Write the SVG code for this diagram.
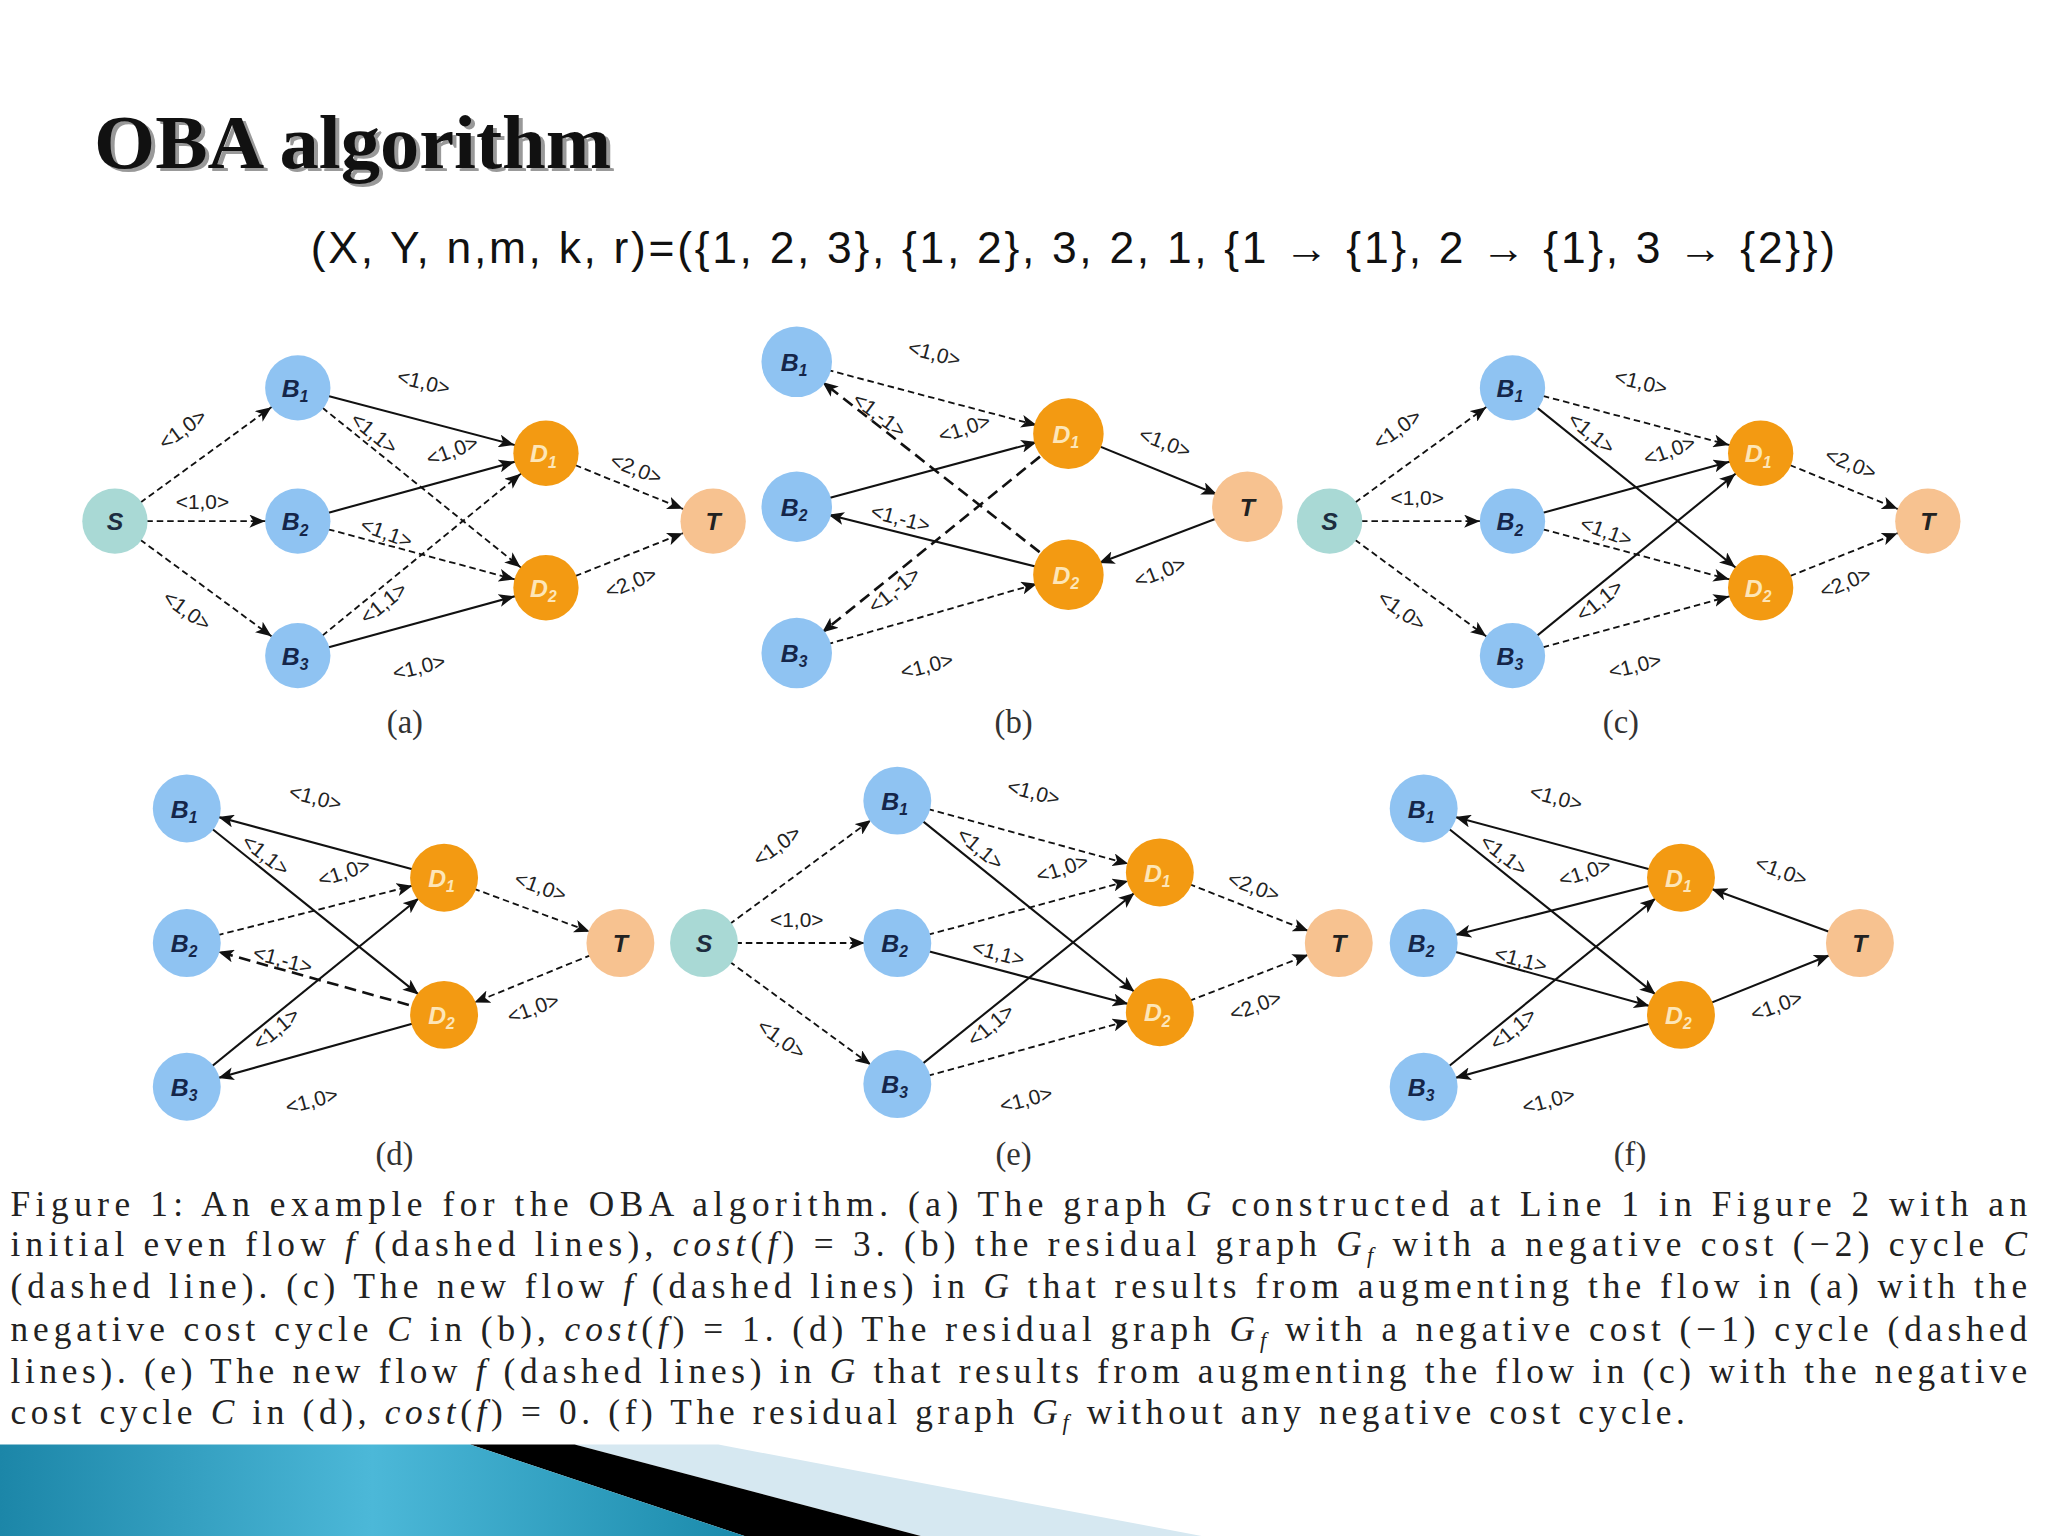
<svg xmlns="http://www.w3.org/2000/svg" width="2048" height="1536" viewBox="0 0 2048 1536">
<defs>
<marker id="ah" markerUnits="userSpaceOnUse" viewBox="0 0 40 10" markerWidth="40" markerHeight="10" refX="37" refY="5" orient="auto"><path d="M0,0 L12,5 L0,10 L3,5 z" fill="#111"/></marker>
<style>
.s{stroke:#111;stroke-width:1.6;fill:none;marker-end:url(#ah)}
.d{stroke:#111;stroke-width:1.4;fill:none;stroke-dasharray:5,3;marker-end:url(#ah)}
.l{stroke:#111;stroke-width:2;fill:none;stroke-dasharray:9,5;marker-end:url(#ah)}
.lb{font-family:"Liberation Sans",Arial,sans-serif;font-size:16px;fill:#222;text-anchor:middle}
.nt{font-family:"Liberation Sans",Arial,sans-serif;font-size:19px;font-weight:bold;font-style:italic;text-anchor:middle}
.sub{font-size:12px}
.cS{fill:#a9d9d5}.cB{fill:#8fc3f2}.cD{fill:#f39a12}.cT{fill:#f7c290}
.tS{fill:#1d2d40}.tB{fill:#15264a}.tD{fill:#fde6b8}.tT{fill:#222}
.cap{font-family:"Liberation Serif","Times New Roman",serif;font-size:27px;fill:#222}
.pc{font-family:"Liberation Serif","Times New Roman",serif;font-size:25px;fill:#333;text-anchor:middle}
</style>
</defs>
<rect width="2048" height="1536" fill="#fff"/>
<g transform="scale(1.30612)">
<g id="title">
<text x="75" y="131" font-family="Liberation Serif,serif" font-size="58" font-weight="bold" fill="#999" textLength="396" lengthAdjust="spacingAndGlyphs">OBA algorithm</text>
<text x="72" y="129" font-family="Liberation Serif,serif" font-size="58" font-weight="bold" fill="#111" textLength="396" lengthAdjust="spacingAndGlyphs">OBA algorithm</text>
<text x="238" y="201" font-family="Liberation Sans,Arial,sans-serif" font-size="34" fill="#111" textLength="1167" lengthAdjust="spacing">(X, Y, n,m, k, r)=({1, 2, 3}, {1, 2}, 3, 2, 1, {1 → {1}, 2 → {1}, 3 → {2}})</text>
</g>
<g id="connectors">
<line class="d" x1="88" y1="399" x2="228" y2="297"/><line class="d" x1="88" y1="399" x2="228" y2="399"/><line class="d" x1="88" y1="399" x2="228" y2="502"/>
<line class="s" x1="228" y1="297" x2="418" y2="347"/><line class="d" x1="228" y1="297" x2="418" y2="450"/>
<line class="s" x1="228" y1="399" x2="418" y2="347"/><line class="d" x1="228" y1="399" x2="418" y2="450"/>
<line class="d" x1="228" y1="502" x2="418" y2="347"/><line class="s" x1="228" y1="502" x2="418" y2="450"/>
<line class="d" x1="418" y1="347" x2="546" y2="399"/><line class="d" x1="418" y1="450" x2="546" y2="399"/>
<line class="d" x1="610" y1="277" x2="818" y2="332"/><line class="l" x1="818" y1="440" x2="610" y2="277"/>
<line class="s" x1="610" y1="388" x2="818" y2="332"/><line class="s" x1="818" y1="440" x2="610" y2="388"/>
<line class="l" x1="818" y1="332" x2="610" y2="500"/><line class="d" x1="610" y1="500" x2="818" y2="440"/>
<line class="s" x1="818" y1="332" x2="955" y2="388"/><line class="s" x1="955" y1="388" x2="818" y2="440"/>
<line class="d" x1="1018" y1="399" x2="1158" y2="297"/><line class="d" x1="1018" y1="399" x2="1158" y2="399"/><line class="d" x1="1018" y1="399" x2="1158" y2="502"/>
<line class="d" x1="1158" y1="297" x2="1348" y2="347"/><line class="s" x1="1158" y1="297" x2="1348" y2="450"/>
<line class="s" x1="1158" y1="399" x2="1348" y2="347"/><line class="d" x1="1158" y1="399" x2="1348" y2="450"/>
<line class="s" x1="1158" y1="502" x2="1348" y2="347"/><line class="d" x1="1158" y1="502" x2="1348" y2="450"/>
<line class="d" x1="1348" y1="347" x2="1476" y2="399"/><line class="d" x1="1348" y1="450" x2="1476" y2="399"/>
<line class="s" x1="340" y1="672" x2="143" y2="619"/><line class="s" x1="143" y1="619" x2="340" y2="777"/>
<line class="d" x1="143" y1="722" x2="340" y2="672"/><line class="l" x1="340" y1="777" x2="143" y2="722"/>
<line class="s" x1="143" y1="832" x2="340" y2="672"/><line class="s" x1="340" y1="777" x2="143" y2="832"/>
<line class="d" x1="340" y1="672" x2="475" y2="722"/><line class="d" x1="475" y1="722" x2="340" y2="777"/>
<line class="d" x1="539" y1="722" x2="687" y2="613"/><line class="d" x1="539" y1="722" x2="687" y2="722"/><line class="d" x1="539" y1="722" x2="687" y2="830"/>
<line class="d" x1="687" y1="613" x2="888" y2="668"/><line class="s" x1="687" y1="613" x2="888" y2="775"/>
<line class="d" x1="687" y1="722" x2="888" y2="668"/><line class="s" x1="687" y1="722" x2="888" y2="775"/>
<line class="s" x1="687" y1="830" x2="888" y2="668"/><line class="d" x1="687" y1="830" x2="888" y2="775"/>
<line class="d" x1="888" y1="668" x2="1025" y2="722"/><line class="d" x1="888" y1="775" x2="1025" y2="722"/>
<line class="s" x1="1287" y1="672" x2="1090" y2="619"/><line class="s" x1="1090" y1="619" x2="1287" y2="777"/>
<line class="s" x1="1287" y1="672" x2="1090" y2="722"/><line class="s" x1="1090" y1="722" x2="1287" y2="777"/>
<line class="s" x1="1090" y1="832" x2="1287" y2="672"/><line class="s" x1="1287" y1="777" x2="1090" y2="832"/>
<line class="s" x1="1424" y1="722" x2="1287" y2="672"/><line class="s" x1="1287" y1="777" x2="1424" y2="722"/>
</g>
<g id="edge-labels">
<text class="lb" transform="translate(143,333) rotate(-36)">&lt;1,0&gt;</text>
<text class="lb" transform="translate(155,390)">&lt;1,0&gt;</text>
<text class="lb" transform="translate(140,472) rotate(36)">&lt;1,0&gt;</text>
<text class="lb" transform="translate(323,298) rotate(14)">&lt;1,0&gt;</text>
<text class="lb" transform="translate(283,336) rotate(39)">&lt;1,1&gt;</text>
<text class="lb" transform="translate(348,350) rotate(-20)">&lt;1,0&gt;</text>
<text class="lb" transform="translate(294,413) rotate(20)">&lt;1,1&gt;</text>
<text class="lb" transform="translate(297,466) rotate(-39)">&lt;1,1&gt;</text>
<text class="lb" transform="translate(322,516) rotate(-14)">&lt;1,0&gt;</text>
<text class="lb" transform="translate(485,364) rotate(22)">&lt;2,0&gt;</text>
<text class="lb" transform="translate(485,451) rotate(-22)">&lt;2,0&gt;</text>
<text class="lb" transform="translate(714,276) rotate(15)">&lt;1,0&gt;</text>
<text class="lb" transform="translate(670,322) rotate(37)">&lt;1,-1&gt;</text>
<text class="lb" transform="translate(740,333) rotate(-18)">&lt;1,0&gt;</text>
<text class="lb" transform="translate(688,402) rotate(15)">&lt;1,-1&gt;</text>
<text class="lb" transform="translate(688,456) rotate(-39)">&lt;1,-1&gt;</text>
<text class="lb" transform="translate(711,515) rotate(-15)">&lt;1,0&gt;</text>
<text class="lb" transform="translate(890,344) rotate(21)">&lt;1,0&gt;</text>
<text class="lb" transform="translate(890,443) rotate(-21)">&lt;1,0&gt;</text>
<text class="lb" transform="translate(1073,333) rotate(-36)">&lt;1,0&gt;</text>
<text class="lb" transform="translate(1085,387)">&lt;1,0&gt;</text>
<text class="lb" transform="translate(1070,472) rotate(36)">&lt;1,0&gt;</text>
<text class="lb" transform="translate(1255,298) rotate(14)">&lt;1,0&gt;</text>
<text class="lb" transform="translate(1215,336) rotate(39)">&lt;1,1&gt;</text>
<text class="lb" transform="translate(1280,350) rotate(-20)">&lt;1,0&gt;</text>
<text class="lb" transform="translate(1228,412) rotate(20)">&lt;1,1&gt;</text>
<text class="lb" transform="translate(1228,464) rotate(-39)">&lt;1,1&gt;</text>
<text class="lb" transform="translate(1253,515) rotate(-14)">&lt;1,0&gt;</text>
<text class="lb" transform="translate(1415,360) rotate(22)">&lt;2,0&gt;</text>
<text class="lb" transform="translate(1415,451) rotate(-22)">&lt;2,0&gt;</text>
<text class="lb" transform="translate(240,616) rotate(15)">&lt;1,0&gt;</text>
<text class="lb" transform="translate(200,659) rotate(38)">&lt;1,1&gt;</text>
<text class="lb" transform="translate(265,673) rotate(-18)">&lt;1,0&gt;</text>
<text class="lb" transform="translate(215,740) rotate(15)">&lt;1,-1&gt;</text>
<text class="lb" transform="translate(215,792) rotate(-40)">&lt;1,1&gt;</text>
<text class="lb" transform="translate(240,848) rotate(-15)">&lt;1,0&gt;</text>
<text class="lb" transform="translate(412,684) rotate(20)">&lt;1,0&gt;</text>
<text class="lb" transform="translate(410,777) rotate(-20)">&lt;1,0&gt;</text>
<text class="lb" transform="translate(598,652) rotate(-36)">&lt;1,0&gt;</text>
<text class="lb" transform="translate(610,710)">&lt;1,0&gt;</text>
<text class="lb" transform="translate(595,800) rotate(36)">&lt;1,0&gt;</text>
<text class="lb" transform="translate(790,612) rotate(15)">&lt;1,0&gt;</text>
<text class="lb" transform="translate(747,654) rotate(40)">&lt;1,1&gt;</text>
<text class="lb" transform="translate(815,670) rotate(-18)">&lt;1,0&gt;</text>
<text class="lb" transform="translate(763,735) rotate(15)">&lt;1,1&gt;</text>
<text class="lb" transform="translate(762,789) rotate(-40)">&lt;1,1&gt;</text>
<text class="lb" transform="translate(787,847) rotate(-15)">&lt;1,0&gt;</text>
<text class="lb" transform="translate(958,684) rotate(20)">&lt;2,0&gt;</text>
<text class="lb" transform="translate(963,775) rotate(-20)">&lt;2,0&gt;</text>
<text class="lb" transform="translate(1190,616) rotate(15)">&lt;1,0&gt;</text>
<text class="lb" transform="translate(1148,659) rotate(38)">&lt;1,1&gt;</text>
<text class="lb" transform="translate(1215,673) rotate(-18)">&lt;1,0&gt;</text>
<text class="lb" transform="translate(1163,740) rotate(15)">&lt;1,1&gt;</text>
<text class="lb" transform="translate(1162,792) rotate(-40)">&lt;1,1&gt;</text>
<text class="lb" transform="translate(1187,848) rotate(-15)">&lt;1,0&gt;</text>
<text class="lb" transform="translate(1362,672) rotate(20)">&lt;1,0&gt;</text>
<text class="lb" transform="translate(1362,775) rotate(-20)">&lt;1,0&gt;</text>
</g>
<g id="a-S"><circle class="cS" cx="88" cy="399" r="25"/><text class="nt tS" x="88" y="406">S</text></g>
<g id="a-B1"><circle class="cB" cx="228" cy="297" r="25"/><text class="nt tB" x="226" y="304">B<tspan class="sub" dy="4">1</tspan></text></g>
<g id="a-B2"><circle class="cB" cx="228" cy="399" r="25"/><text class="nt tB" x="226" y="406">B<tspan class="sub" dy="4">2</tspan></text></g>
<g id="a-B3"><circle class="cB" cx="228" cy="502" r="25"/><text class="nt tB" x="226" y="509">B<tspan class="sub" dy="4">3</tspan></text></g>
<g id="a-D1"><circle class="cD" cx="418" cy="347" r="25"/><text class="nt tD" x="416" y="354">D<tspan class="sub" dy="4">1</tspan></text></g>
<g id="a-D2"><circle class="cD" cx="418" cy="450" r="25"/><text class="nt tD" x="416" y="457">D<tspan class="sub" dy="4">2</tspan></text></g>
<g id="a-T"><circle class="cT" cx="546" cy="399" r="25"/><text class="nt tT" x="546" y="406">T</text></g>
<g id="b-B1"><circle class="cB" cx="610" cy="277" r="27"/><text class="nt tB" x="608" y="284">B<tspan class="sub" dy="4">1</tspan></text></g>
<g id="b-B2"><circle class="cB" cx="610" cy="388" r="27"/><text class="nt tB" x="608" y="395">B<tspan class="sub" dy="4">2</tspan></text></g>
<g id="b-B3"><circle class="cB" cx="610" cy="500" r="27"/><text class="nt tB" x="608" y="507">B<tspan class="sub" dy="4">3</tspan></text></g>
<g id="b-D1"><circle class="cD" cx="818" cy="332" r="27"/><text class="nt tD" x="816" y="339">D<tspan class="sub" dy="4">1</tspan></text></g>
<g id="b-D2"><circle class="cD" cx="818" cy="440" r="27"/><text class="nt tD" x="816" y="447">D<tspan class="sub" dy="4">2</tspan></text></g>
<g id="b-T"><circle class="cT" cx="955" cy="388" r="27"/><text class="nt tT" x="955" y="395">T</text></g>
<g id="c-S"><circle class="cS" cx="1018" cy="399" r="25"/><text class="nt tS" x="1018" y="406">S</text></g>
<g id="c-B1"><circle class="cB" cx="1158" cy="297" r="25"/><text class="nt tB" x="1156" y="304">B<tspan class="sub" dy="4">1</tspan></text></g>
<g id="c-B2"><circle class="cB" cx="1158" cy="399" r="25"/><text class="nt tB" x="1156" y="406">B<tspan class="sub" dy="4">2</tspan></text></g>
<g id="c-B3"><circle class="cB" cx="1158" cy="502" r="25"/><text class="nt tB" x="1156" y="509">B<tspan class="sub" dy="4">3</tspan></text></g>
<g id="c-D1"><circle class="cD" cx="1348" cy="347" r="25"/><text class="nt tD" x="1346" y="354">D<tspan class="sub" dy="4">1</tspan></text></g>
<g id="c-D2"><circle class="cD" cx="1348" cy="450" r="25"/><text class="nt tD" x="1346" y="457">D<tspan class="sub" dy="4">2</tspan></text></g>
<g id="c-T"><circle class="cT" cx="1476" cy="399" r="25"/><text class="nt tT" x="1476" y="406">T</text></g>
<g id="d-B1"><circle class="cB" cx="143" cy="619" r="26"/><text class="nt tB" x="141" y="626">B<tspan class="sub" dy="4">1</tspan></text></g>
<g id="d-B2"><circle class="cB" cx="143" cy="722" r="26"/><text class="nt tB" x="141" y="729">B<tspan class="sub" dy="4">2</tspan></text></g>
<g id="d-B3"><circle class="cB" cx="143" cy="832" r="26"/><text class="nt tB" x="141" y="839">B<tspan class="sub" dy="4">3</tspan></text></g>
<g id="d-D1"><circle class="cD" cx="340" cy="672" r="26"/><text class="nt tD" x="338" y="679">D<tspan class="sub" dy="4">1</tspan></text></g>
<g id="d-D2"><circle class="cD" cx="340" cy="777" r="26"/><text class="nt tD" x="338" y="784">D<tspan class="sub" dy="4">2</tspan></text></g>
<g id="d-T"><circle class="cT" cx="475" cy="722" r="26"/><text class="nt tT" x="475" y="729">T</text></g>
<g id="e-S"><circle class="cS" cx="539" cy="722" r="26"/><text class="nt tS" x="539" y="729">S</text></g>
<g id="e-B1"><circle class="cB" cx="687" cy="613" r="26"/><text class="nt tB" x="685" y="620">B<tspan class="sub" dy="4">1</tspan></text></g>
<g id="e-B2"><circle class="cB" cx="687" cy="722" r="26"/><text class="nt tB" x="685" y="729">B<tspan class="sub" dy="4">2</tspan></text></g>
<g id="e-B3"><circle class="cB" cx="687" cy="830" r="26"/><text class="nt tB" x="685" y="837">B<tspan class="sub" dy="4">3</tspan></text></g>
<g id="e-D1"><circle class="cD" cx="888" cy="668" r="26"/><text class="nt tD" x="886" y="675">D<tspan class="sub" dy="4">1</tspan></text></g>
<g id="e-D2"><circle class="cD" cx="888" cy="775" r="26"/><text class="nt tD" x="886" y="782">D<tspan class="sub" dy="4">2</tspan></text></g>
<g id="e-T"><circle class="cT" cx="1025" cy="722" r="26"/><text class="nt tT" x="1025" y="729">T</text></g>
<g id="f-B1"><circle class="cB" cx="1090" cy="619" r="26"/><text class="nt tB" x="1088" y="626">B<tspan class="sub" dy="4">1</tspan></text></g>
<g id="f-B2"><circle class="cB" cx="1090" cy="722" r="26"/><text class="nt tB" x="1088" y="729">B<tspan class="sub" dy="4">2</tspan></text></g>
<g id="f-B3"><circle class="cB" cx="1090" cy="832" r="26"/><text class="nt tB" x="1088" y="839">B<tspan class="sub" dy="4">3</tspan></text></g>
<g id="f-D1"><circle class="cD" cx="1287" cy="672" r="26"/><text class="nt tD" x="1285" y="679">D<tspan class="sub" dy="4">1</tspan></text></g>
<g id="f-D2"><circle class="cD" cx="1287" cy="777" r="26"/><text class="nt tD" x="1285" y="784">D<tspan class="sub" dy="4">2</tspan></text></g>
<g id="f-T"><circle class="cT" cx="1424" cy="722" r="26"/><text class="nt tT" x="1424" y="729">T</text></g>
<g id="panel-captions">
<text class="pc" x="310" y="561">(a)</text><text class="pc" x="776" y="561">(b)</text><text class="pc" x="1241" y="561">(c)</text>
<text class="pc" x="302" y="892">(d)</text><text class="pc" x="776" y="892">(e)</text><text class="pc" x="1248" y="892">(f)</text>
</g>
<g id="caption">
<text class="cap" x="8" y="931" textLength="1544" lengthAdjust="spacing">Figure 1: An example for the OBA algorithm. (a) The graph <tspan font-style="italic">G</tspan> constructed at Line 1 in Figure 2 with an</text>
<text class="cap" x="8" y="962" textLength="1544" lengthAdjust="spacing">initial even flow <tspan font-style="italic">f</tspan> (dashed lines), <tspan font-style="italic">cost</tspan>(<tspan font-style="italic">f</tspan>) = 3. (b) the residual graph <tspan font-style="italic">G<tspan font-size="17" dy="5">f</tspan></tspan><tspan dy="-5"> with a negative cost (−2) cycle </tspan><tspan font-style="italic">C</tspan></text>
<text class="cap" x="8" y="994" textLength="1544" lengthAdjust="spacing">(dashed line). (c) The new flow <tspan font-style="italic">f</tspan> (dashed lines) in <tspan font-style="italic">G</tspan> that results from augmenting the flow in (a) with the</text>
<text class="cap" x="8" y="1027" textLength="1544" lengthAdjust="spacing">negative cost cycle <tspan font-style="italic">C</tspan> in (b), <tspan font-style="italic">cost</tspan>(<tspan font-style="italic">f</tspan>) = 1. (d) The residual graph <tspan font-style="italic">G<tspan font-size="17" dy="5">f</tspan></tspan><tspan dy="-5"> with a negative cost (−1) cycle (dashed</tspan></text>
<text class="cap" x="8" y="1059" textLength="1544" lengthAdjust="spacing">lines). (e) The new flow <tspan font-style="italic">f</tspan> (dashed lines) in <tspan font-style="italic">G</tspan> that results from augmenting the flow in (c) with the negative</text>
<text class="cap" x="8" y="1090" textLength="1282" lengthAdjust="spacing">cost cycle <tspan font-style="italic">C</tspan> in (d), <tspan font-style="italic">cost</tspan>(<tspan font-style="italic">f</tspan>) = 0. (f) The residual graph <tspan font-style="italic">G<tspan font-size="17" dy="5">f</tspan></tspan><tspan dy="-5"> without any negative cost cycle.</tspan></text>
</g>
<g id="footer-band">
<defs><linearGradient id="bg" x1="0" y1="0" x2="1" y2="0"><stop offset="0" stop-color="#1c86a8"/><stop offset="0.5" stop-color="#4cb8d8"/><stop offset="1" stop-color="#1a8aab"/></linearGradient></defs>
<polygon points="440,1106 550,1106 920,1176 705,1176" fill="#d6e8f1"/>
<polygon points="360,1106 440,1106 705,1176 570,1176" fill="#000"/>
<polygon points="0,1106 360,1106 570,1176 0,1176" fill="url(#bg)"/>
</g>
</g>
</svg>
